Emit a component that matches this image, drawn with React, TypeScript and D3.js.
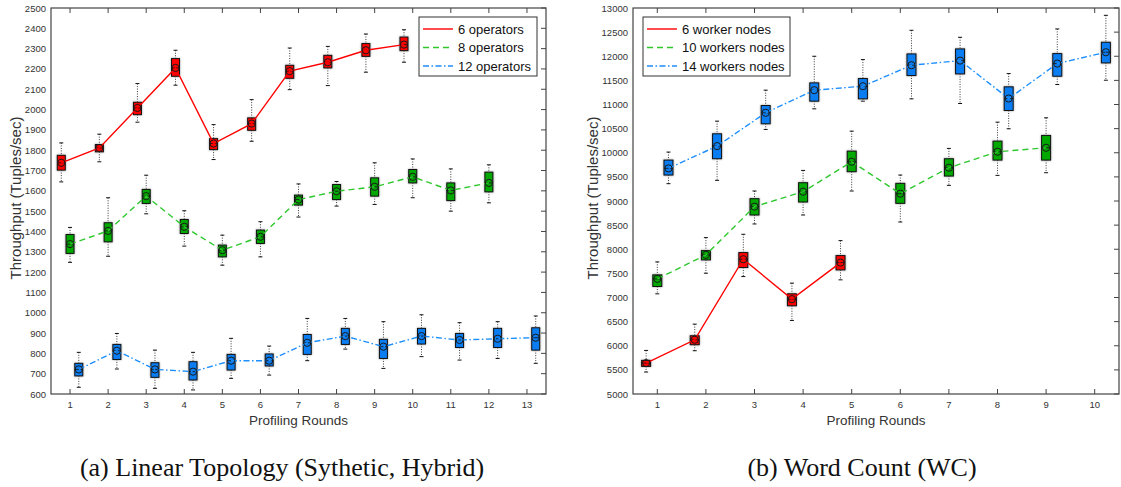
import React, { useEffect, useRef } from "react";
import * as d3 from "d3";

// ---- panel (a) data: Linear Topology ----
const roundsA = [1, 2, 3, 4, 5, 6, 7, 8, 9, 10, 11, 12, 13];
const ticksA = [600, 700, 800, 900, 1000, 1100, 1200, 1300, 1400, 1500, 1600, 1700, 1800, 1900, 2000, 2100, 2200, 2300, 2400, 2500];

const op6Mean = [1738, 1811, 2008, 2205, 1833, 1931, 2189, 2233, 2292, 2320];
const op6Q1 = [1702, 1792, 1975, 2164, 1803, 1898, 2154, 2205, 2262, 2290];
const op6Q3 = [1775, 1828, 2036, 2251, 1857, 1959, 2218, 2267, 2325, 2357];
const op6Lo = [1644, 1743, 1938, 2120, 1754, 1844, 2098, 2118, 2184, 2233];
const op6Hi = [1836, 1879, 2128, 2292, 1926, 2049, 2303, 2311, 2372, 2393];

const op8Mean = [1338, 1403, 1574, 1423, 1308, 1374, 1557, 1598, 1620, 1669, 1602, 1639];
const op8Q1 = [1292, 1349, 1538, 1390, 1275, 1341, 1530, 1557, 1574, 1639, 1552, 1595];
const op8Q3 = [1385, 1443, 1607, 1459, 1333, 1407, 1579, 1631, 1664, 1705, 1639, 1692];
const op8Lo = [1248, 1278, 1487, 1328, 1234, 1275, 1471, 1525, 1533, 1566, 1500, 1541];
const op8Hi = [1420, 1566, 1677, 1502, 1382, 1448, 1634, 1646, 1738, 1757, 1708, 1728];

const op12Mean = [721, 813, 721, 710, 764, 764, 852, 885, 833, 885, 866, 872, 877];
const op12Q1 = [689, 770, 682, 669, 718, 738, 795, 844, 775, 846, 829, 829, 816];
const op12Q3 = [751, 844, 754, 759, 795, 797, 893, 923, 869, 923, 898, 923, 926];
const op12Lo = [633, 723, 628, 620, 677, 693, 764, 821, 726, 784, 767, 775, 751];
const op12Hi = [805, 898, 816, 805, 874, 836, 972, 972, 956, 990, 951, 956, 984];

// ---- panel (b) data: Word Count ----
const roundsB = [1, 2, 3, 4, 5, 6, 7, 8, 9, 10];
const ticksB = [5000, 5500, 6000, 6500, 7000, 7500, 8000, 8500, 9000, 9500, 10000, 10500, 11000, 11500, 12000, 12500, 13000];

const w6Mean = [5641, 6124, 7793, 6966, 7724];
const w6Q1 = [5572, 6021, 7621, 6828, 7572];
const w6Q3 = [5697, 6207, 7931, 7076, 7869];
const w6Lo = [5455, 5897, 7434, 6524, 7366];
const w6Hi = [5903, 6448, 8310, 7297, 8179];

const w10Mean = [7386, 7883, 8883, 9193, 9814, 9152, 9690, 10021, 10103];
const w10Q1 = [7228, 7779, 8710, 8979, 9607, 8952, 9517, 9848, 9848];
const w10Q3 = [7469, 7972, 9048, 9379, 10034, 9366, 9876, 10241, 10359];
const w10Lo = [7076, 7503, 8524, 8710, 9207, 8565, 9324, 9531, 9586];
const w10Hi = [7738, 8241, 9207, 9634, 10448, 9538, 10090, 10634, 10724];

const w14Mean = [9676, 10138, 10828, 11297, 11379, 11814, 11910, 11124, 11848, 12083];
const w14Q1 = [9538, 9876, 10600, 11069, 11117, 11600, 11634, 10876, 11586, 11862];
const w14Q3 = [9848, 10393, 10979, 11448, 11538, 12048, 12152, 11366, 12055, 12290];
const w14Lo = [9359, 9428, 10483, 10910, 11069, 11117, 11021, 10497, 11414, 11503];
const w14Hi = [10014, 10655, 11297, 12000, 11931, 12538, 12393, 11641, 12566, 12848];

type Series = {
  name: string;
  mean: number[];
  q1: number[];
  q3: number[];
  lo: number[];
  hi: number[];
  box: string;
  line: string;
  dash: string | null;
};

const styles = [
  { box: "#ff0000", line: "#ff0000", dash: null },
  { box: "#00a800", line: "#2ec82e", dash: "6,4" },
  { box: "#0a7df2", line: "#1e8fff", dash: "6,2.5,1.5,2.5" },
];

const seriesA: Series[] = [
  { name: "6 operators", mean: op6Mean, q1: op6Q1, q3: op6Q3, lo: op6Lo, hi: op6Hi, ...styles[0] },
  { name: "8 operators", mean: op8Mean, q1: op8Q1, q3: op8Q3, lo: op8Lo, hi: op8Hi, ...styles[1] },
  { name: "12 operators", mean: op12Mean, q1: op12Q1, q3: op12Q3, lo: op12Lo, hi: op12Hi, ...styles[2] },
];

const seriesB: Series[] = [
  { name: "6 worker nodes", mean: w6Mean, q1: w6Q1, q3: w6Q3, lo: w6Lo, hi: w6Hi, ...styles[0] },
  { name: "10 workers nodes", mean: w10Mean, q1: w10Q1, q3: w10Q3, lo: w10Lo, hi: w10Hi, ...styles[1] },
  { name: "14 workers nodes", mean: w14Mean, q1: w14Q1, q3: w14Q3, lo: w14Lo, hi: w14Hi, ...styles[2] },
];

const FONT = "'Liberation Sans', Arial, sans-serif";

const drawPanel = (
  root: d3.Selection<SVGGElement, unknown, null, undefined>,
  opts: {
    left: number;
    right: number;
    top: number;
    bottom: number;
    rounds: number[];
    ticks: number[];
    series: Series[];
    boxW: number;
    yLabelX: number;
    legend: { x: number; y: number; w: number; lineLen: number };
  }
) => {
  const { left, right, top, bottom, rounds, ticks, series, boxW, yLabelX, legend } = opts;
  const x = d3
    .scaleLinear()
    .domain([0.5, rounds.length + 0.5])
    .range([left, right]);
  const y = d3
    .scaleLinear()
    .domain([ticks[0], ticks[ticks.length - 1]])
    .range([bottom, top]);
  const offsets = [-0.23, 0, 0.23];
  const axisColor = "#444";

  const g = root.append("g");

  // tick labels
  g.selectAll(".ytl")
    .data(ticks)
    .join("text")
    .attr("x", left - 5)
    .attr("y", (d) => y(d) + 3.5)
    .attr("text-anchor", "end")
    .style("font-family", FONT)
    .style("font-size", "9.5px")
    .attr("fill", "#333")
    .text((d) => d);

  g.selectAll(".xtl")
    .data(rounds)
    .join("text")
    .attr("x", (d) => x(d))
    .attr("y", bottom + 14)
    .attr("text-anchor", "middle")
    .style("font-family", FONT)
    .style("font-size", "9.5px")
    .attr("fill", "#333")
    .text((d) => d);

  // inward ticks: top, bottom (x), right (y)
  rounds.forEach((r) => {
    g.append("line").attr("x1", x(r)).attr("x2", x(r)).attr("y1", bottom).attr("y2", bottom - 5).attr("stroke", axisColor);
    g.append("line").attr("x1", x(r)).attr("x2", x(r)).attr("y1", top).attr("y2", top + 5).attr("stroke", axisColor);
  });
  ticks.forEach((t) => {
    g.append("line").attr("x1", right).attr("x2", right - 5).attr("y1", y(t)).attr("y2", y(t)).attr("stroke", axisColor);
  });

  // axis labels
  g.append("text")
    .attr("x", (left + right) / 2)
    .attr("y", bottom + 31)
    .attr("text-anchor", "middle")
    .style("font-family", FONT)
    .style("font-size", "13.5px")
    .attr("fill", "#333")
    .text("Profiling Rounds");

  g.append("text")
    .attr("transform", `translate(${yLabelX},${(top + bottom) / 2 - 3}) rotate(-90)`)
    .attr("text-anchor", "middle")
    .style("font-family", FONT)
    .style("font-size", "15px")
    .attr("fill", "#333")
    .text("Throughput (Tuples/sec)");

  series.forEach((s, si) => {
    const off = offsets[si];
    const idx = d3.range(s.mean.length);
    const sg = g.append("g");

    // whiskers
    idx.forEach((i) => {
      const cx = x(rounds[i] + off);
      sg.append("line").attr("x1", cx).attr("x2", cx).attr("y1", y(s.hi[i])).attr("y2", y(s.q3[i]))
        .attr("stroke", "#222").attr("stroke-width", 0.9).attr("stroke-dasharray", "1,1.5");
      sg.append("line").attr("x1", cx).attr("x2", cx).attr("y1", y(s.q1[i])).attr("y2", y(s.lo[i]))
        .attr("stroke", "#222").attr("stroke-width", 0.9).attr("stroke-dasharray", "1,1.5");
      [s.hi[i], s.lo[i]].forEach((v) => {
        sg.append("line").attr("x1", cx - 2).attr("x2", cx + 2).attr("y1", y(v)).attr("y2", y(v))
          .attr("stroke", "#111").attr("stroke-width", 1);
      });
    });

    // boxes
    idx.forEach((i) => {
      const cx = x(rounds[i] + off);
      sg.append("rect")
        .attr("x", cx - boxW / 2)
        .attr("y", y(s.q3[i]))
        .attr("width", boxW)
        .attr("height", y(s.q1[i]) - y(s.q3[i]))
        .attr("fill", s.box)
        .attr("stroke", "#111")
        .attr("stroke-width", 1)
        .style("filter", "drop-shadow(0px 0px 0.8px #999)");
      sg.append("line").attr("x1", cx - boxW / 2).attr("x2", cx + boxW / 2)
        .attr("y1", y(s.mean[i])).attr("y2", y(s.mean[i])).attr("stroke", "#111").attr("stroke-width", 0.8);
    });

    // mean line
    const line = d3
      .line<number>()
      .x((i) => x(rounds[i] + off))
      .y((i) => y(s.mean[i]));
    sg.append("path")
      .attr("d", line(idx))
      .attr("fill", "none")
      .attr("stroke", s.line)
      .attr("stroke-width", 1.4)
      .attr("stroke-dasharray", s.dash);

    // mean markers
    sg.selectAll("circle")
      .data(idx)
      .join("circle")
      .attr("cx", (i) => x(rounds[i] + off))
      .attr("cy", (i) => y(s.mean[i]))
      .attr("r", 3.6)
      .attr("fill", "none")
      .attr("stroke", "#1a1a1a")
      .attr("stroke-width", 1);
  });

  // frame
  g.append("rect")
    .attr("x", left)
    .attr("y", top)
    .attr("width", right - left)
    .attr("height", bottom - top)
    .attr("fill", "none")
    .attr("stroke", axisColor)
    .attr("stroke-width", 1.2);

  // legend
  const lg = g.append("g").attr("transform", `translate(${legend.x},${legend.y})`);
  lg.append("rect")
    .attr("width", legend.w)
    .attr("height", 59)
    .attr("fill", "#fff")
    .attr("stroke", "#333")
    .attr("stroke-width", 1);
  series.forEach((s, i) => {
    const ly = 12 + i * 18.5;
    lg.append("line")
      .attr("x1", 4)
      .attr("x2", 4 + legend.lineLen)
      .attr("y1", ly)
      .attr("y2", ly)
      .attr("stroke", s.line)
      .attr("stroke-width", 1.4)
      .attr("stroke-dasharray", s.dash);
    lg.append("text")
      .attr("x", legend.lineLen + 9)
      .attr("y", ly + 4.5)
      .style("font-family", FONT)
      .style("font-size", "13px")
      .attr("fill", "#111")
      .text(s.name);
  });
};

const App = () => {
  const svgRef = useRef<SVGSVGElement>(null);

  useEffect(() => {
    const svg = d3.select(svgRef.current);
    svg.selectAll("*").remove();
    const root = svg.append("g") as d3.Selection<SVGGElement, unknown, null, undefined>;

    drawPanel(root, {
      left: 51,
      right: 546,
      top: 8,
      bottom: 394,
      rounds: roundsA,
      ticks: ticksA,
      series: seriesA,
      boxW: 8,
      yLabelX: 21,
      legend: { x: 419, y: 17, w: 118, lineLen: 30 },
    });

    drawPanel(root, {
      left: 633,
      right: 1119,
      top: 8,
      bottom: 394,
      rounds: roundsB,
      ticks: ticksB,
      series: seriesB,
      boxW: 9,
      yLabelX: 598,
      legend: { x: 643, y: 17, w: 147, lineLen: 30 },
    });

    // captions
    const captions = [
      { text: "(a) Linear Topology (Sythetic, Hybrid)", cx: 282 },
      { text: "(b) Word Count (WC)", cx: 862 },
    ];
    svg
      .selectAll(".cap")
      .data(captions)
      .join("text")
      .attr("x", (d) => d.cx)
      .attr("y", 476)
      .attr("text-anchor", "middle")
      .style("font-family", "'Liberation Serif', 'DejaVu Serif', serif")
      .style("font-size", "26px")
      .attr("fill", "#111")
      .text((d) => d.text);
  }, []);

  return (
    <div style={{ position: "fixed", left: 0, top: 0 }}>
      <svg ref={svgRef} width={1121} height={487} style={{ display: "block", background: "#fff" }} />
    </div>
  );
};

export default App;
